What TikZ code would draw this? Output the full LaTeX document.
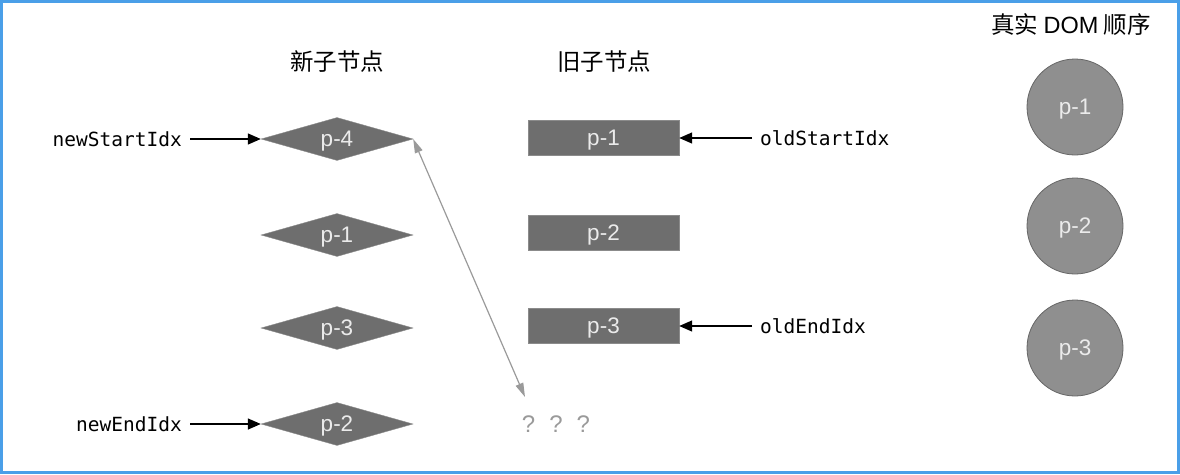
\documentclass[tikz,border=0pt]{standalone}
\usepackage{fontspec}
\setmainfont{Liberation Sans}
\setmonofont{DejaVu Sans Mono}
\newfontfamily\cjk{Noto Sans CJK SC}
\usetikzlibrary{shapes.geometric,arrows.meta}
\definecolor{frameblue}{HTML}{4A9FE8}
\definecolor{boxgray}{HTML}{6E6E6E}
\definecolor{circgray}{HTML}{8F8F8F}
\definecolor{circline}{HTML}{666666}
\definecolor{linkgray}{HTML}{9A9A9A}
\tikzset{
  ptext/.style={text=white!92!black,font=\fontsize{22.5}{26}\selectfont,text depth=0pt},
  newnode/.style={ptext,diamond,fill=boxgray,draw=boxgray!80,inner sep=0pt,minimum width=152pt,minimum height=43pt,aspect=3.5},
  oldnode/.style={ptext,rectangle,fill=boxgray,draw=boxgray!80,minimum width=151pt,minimum height=35pt,inner sep=0pt},
  domnode/.style={ptext,circle,fill=circgray,draw=circline,line width=0.8pt,minimum size=96pt,inner sep=0pt},
  header/.style={font=\cjk\fontsize{23.5}{28}\selectfont},
  idxlabel/.style={font=\ttfamily\fontsize{19.5}{24}\selectfont,inner sep=0pt},
  ptr/.style={-{Triangle[length=13pt,width=11pt]},line width=1.4pt,black},
  link/.style={{Triangle[length=14pt,width=8pt]}-{Triangle[length=14pt,width=8pt]},line width=1.2pt,linkgray},
}
\begin{document}
\begin{tikzpicture}[x=1pt,y=-1pt]
\useasboundingbox (0,0) rectangle (1180,474);
\draw[frameblue,line width=2.5pt] (1.5,1.5) rectangle (1178.5,472.5);

\node[header] (hnew) at (337,62) {新子节点};
\node[header] (hold) at (604,62) {旧子节点};
\node[header] (hdom) at (1071,25) {真实 {\fontspec{Liberation Sans}DOM} 顺序};

\node[newnode] (n4) at (337,139) {p-4};
\node[newnode] (n1) at (337,235) {p-1};
\node[newnode] (n3) at (337,328) {p-3};
\node[newnode] (n2) at (337,424) {p-2};

\node[oldnode] (o1) at (603.5,138) {p-1};
\node[oldnode] (o2) at (603.5,233) {p-2};
\node[oldnode] (o3) at (603.5,326) {p-3};

\node[domnode] (d1) at (1075,107) {p-1};
\node[domnode] (d2) at (1075,226) {p-2};
\node[domnode] (d3) at (1075,348) {p-3};

\node[idxlabel,anchor=east] (nsi) at (182,139) {newStartIdx};
\node[idxlabel,anchor=east] (nei) at (182,424) {newEndIdx};
\node[idxlabel,anchor=west] (osi) at (760,138) {oldStartIdx};
\node[idxlabel,anchor=west] (oei) at (760,326) {oldEndIdx};

\draw[ptr] (nsi.east) ++(8,0) -- (n4.west);
\draw[ptr] (nei.east) ++(8,0) -- (n2.west);
\draw[ptr] (osi.west) ++(-8,0) -- (o1.east);
\draw[ptr] (oei.west) ++(-8,0) -- (o3.east);

\node[text=linkgray,font=\fontsize{24}{28}\selectfont] (q) at (556,424) {?\hspace{14pt}?\hspace{14pt}?};
\coordinate (qtop) at (525,397);
\draw[link] (n4.east) -- (qtop);
\end{tikzpicture}
\end{document}
